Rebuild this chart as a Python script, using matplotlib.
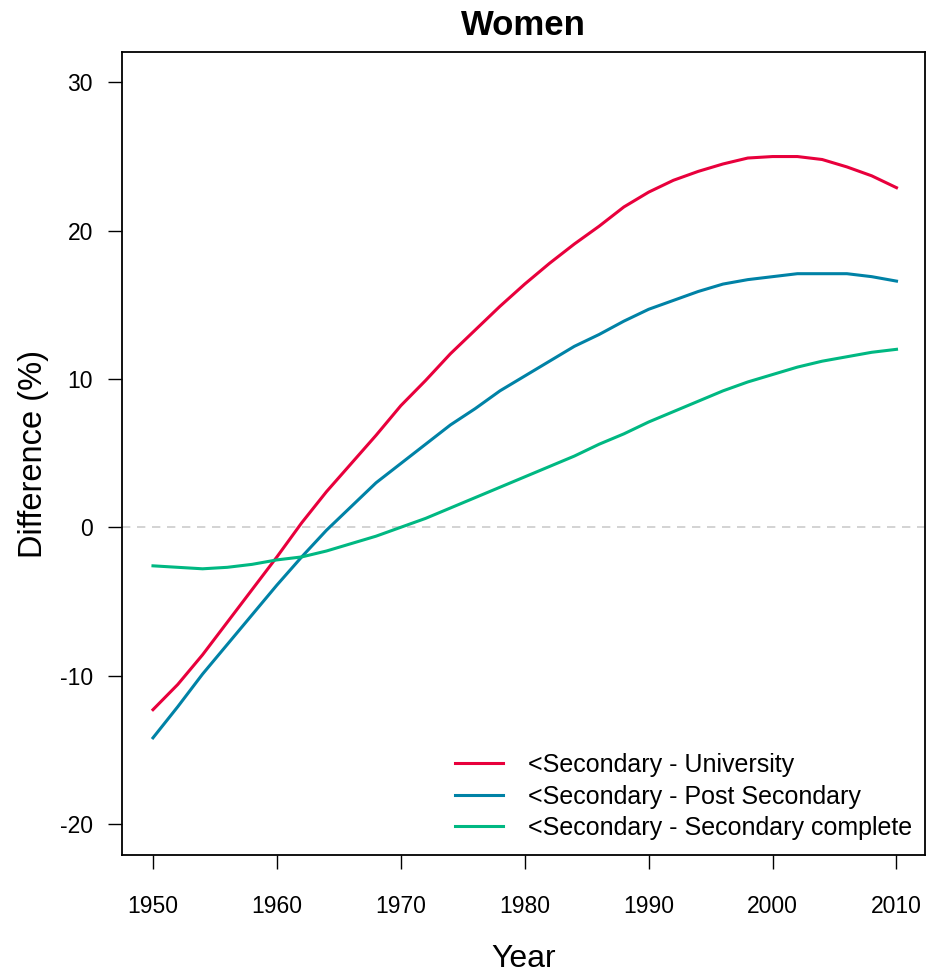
import numpy as np
import matplotlib
matplotlib.use('Agg')
import matplotlib.pyplot as plt

plt.rcParams['font.family'] = ['Liberation Sans', 'DejaVu Sans']
plt.rcParams['axes.unicode_minus'] = False

years = np.arange(1950, 2011, 2)

# <Secondary - University
univ = [-12.3, -10.6, -8.6, -6.4, -4.2, -2.0, 0.3, 2.4, 4.3, 6.2,
        8.2, 9.9, 11.7, 13.3, 14.9, 16.4, 17.8, 19.1, 20.3, 21.6,
        22.6, 23.4, 24.0, 24.5, 24.9, 25.0, 25.0, 24.8, 24.3, 23.7, 22.9]

# <Secondary - Post Secondary
post_sec = [-14.2, -12.1, -9.9, -7.9, -5.9, -3.9, -2.0, -0.2, 1.4, 3.0,
            4.3, 5.6, 6.9, 8.0, 9.2, 10.2, 11.2, 12.2, 13.0, 13.9,
            14.7, 15.3, 15.9, 16.4, 16.7, 16.9, 17.1, 17.1, 17.1, 16.9, 16.6]

# <Secondary - Secondary complete
sec_comp = [-2.6, -2.7, -2.8, -2.7, -2.5, -2.2, -2.0, -1.6, -1.1, -0.6,
            0.0, 0.6, 1.3, 2.0, 2.7, 3.4, 4.1, 4.8, 5.6, 6.3,
            7.1, 7.8, 8.5, 9.2, 9.8, 10.3, 10.8, 11.2, 11.5, 11.8, 12.0]

labels = ['<Secondary - University', '<Secondary - Post Secondary',
          '<Secondary - Secondary complete']
colors = ['#E8003C', '#0082A6', '#00B882']

fig = plt.figure(figsize=(9.27, 9.74), dpi=100)
ax = fig.add_axes([122/927, 119/974, 803/927, 803/974])

ax.axhline(0, color='#CCCCCC', lw=1.2, ls=(0, (5, 4)), zorder=1)
for vals, lab, col in zip([univ, post_sec, sec_comp], labels, colors):
    ax.plot(years, vals, color=col, lw=2.2, label=lab, zorder=3)

ax.set_xlim(1947.5, 2012.3)
ax.set_ylim(-22.1, 32.05)
ax.set_xticks(np.arange(1950, 2011, 10))
ax.set_yticks([-20, -10, 0, 10, 20, 30])

for s in ax.spines.values():
    s.set_linewidth(1.3)
ax.tick_params(axis='both', length=10, width=1.0, labelsize=16.5)
ax.tick_params(axis='x', pad=19)
ax.tick_params(axis='y', pad=11)

ax.set_title('Women', fontsize=25, fontweight='bold', pad=12)
ax.set_xlabel('Year', fontsize=23, va='center')
ax.set_ylabel('Difference (%)', fontsize=23.5, va='center')
ax.xaxis.set_label_coords(0.5, -0.13)
ax.yaxis.set_label_coords(-0.11, 0.5)

ax.legend(loc='upper left', bbox_to_anchor=(0.4147, 0.127), frameon=False,
          fontsize=18, handlelength=1.92, handletextpad=1.0,
          labelspacing=0.3, borderpad=0, borderaxespad=0)

fig.savefig('out.png', dpi=100)
